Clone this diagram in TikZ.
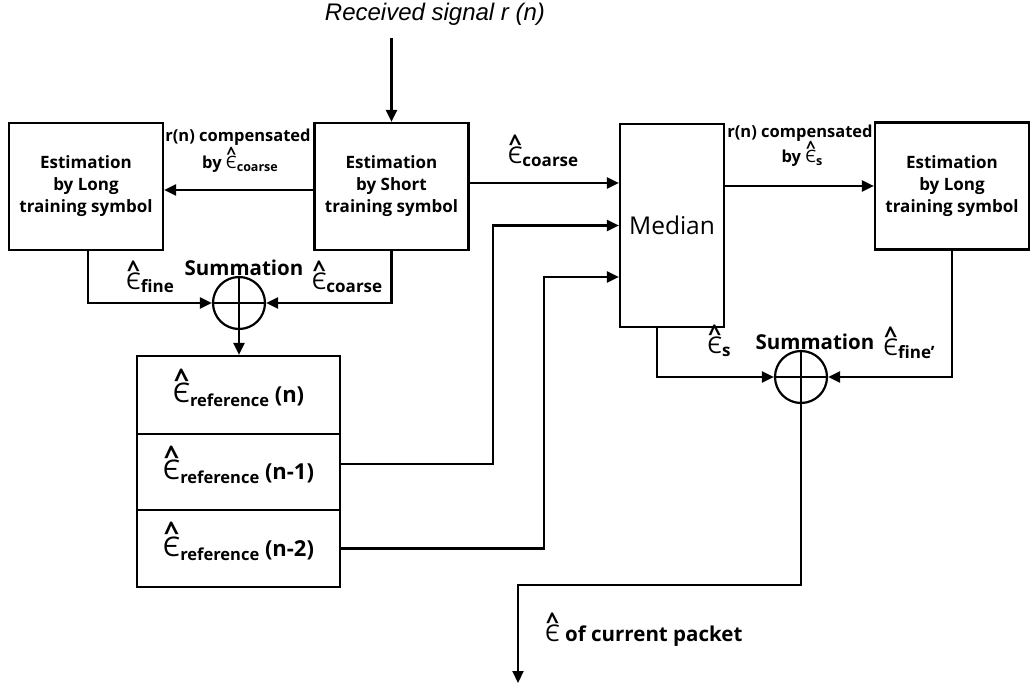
\documentclass[tikz,border=0pt]{standalone}
\usepackage{fontspec}
\usepackage{graphicx}
\setmainfont{Open Sans}
\newfontfamily\arialfont{Liberation Sans}
\usetikzlibrary{arrows.meta}
\newcommand\ehat[1]{\mbox{\fontsize{#1}{#1}\selectfont\mdseries\ooalign{Є\cr\hidewidth\raisebox{0.52em}{\bfseries\textasciicircum}\hidewidth\cr}}}
\newcommand\eh[3]{\mbox{\ehat{#1}\raisebox{-0.2em}{\fontsize{#2}{#2}\selectfont\bfseries #3}}}
\begin{document}
\begin{tikzpicture}[x=1pt,y=-1pt,
  blk/.style={draw, line width=2.2pt, minimum width=154pt, minimum height=127pt, inner sep=0pt, align=center, font=\fontsize{17}{22}\selectfont\bfseries},
  arr/.style={line width=2.2pt, -{Triangle[length=12pt,width=11pt]}},
  ln/.style={line width=2.2pt},
  sumc/.style={draw, circle, line width=2.2pt, minimum size=52pt, inner sep=0pt},
  lbl/.style={inner sep=0pt, font=\fontsize{16.5}{17}\selectfont\bfseries},
  big/.style={inner sep=0pt, font=\fontsize{20.5}{20}\selectfont\bfseries},
  cell/.style={draw, line width=2.2pt, minimum width=203pt, inner sep=0pt, font=\fontsize{22}{22}\selectfont\bfseries}]
\path[use as bounding box] (0,0) rectangle (1031,684);

% blocks
\node[blk] (longL) at (86,186.5) {Estimation\\by Long\\training symbol};
\node[blk] (shortB) at (391.5,186.5) {Estimation\\by Short\\training symbol};
\node[blk] (longR) at (952,186) {Estimation\\by Long\\training symbol};
\node[draw, line width=2.2pt, minimum width=104pt, minimum height=203pt, inner sep=0pt, font=\fontsize{24.5}{24}\selectfont] (median) at (672,225.5) {Median};

% summation circles
\node[sumc] (sumL) at (239,303) {};
\node[sumc] (sumR) at (801,377) {};
\draw[ln] (sumL.north) -- (sumL.south) (sumL.west) -- (sumL.east);
\draw[ln] (sumR.north) -- (sumR.south) (sumR.west) -- (sumR.east);

% reference stack
\node[cell, minimum height=78pt] (ref0) at (238.5,395) {\eh{27}{16.5}{reference}\ (n)};
\node[cell, minimum height=76pt] (ref1) at (238.5,472) {\eh{27}{16.5}{reference}\ (n-1)};
\node[cell, minimum height=77pt] (ref2) at (238.5,548.5) {\eh{27}{16.5}{reference}\ (n-2)};

% texts
\node[inner sep=0pt, font=\arialfont\itshape\fontsize{24}{24}\selectfont] (rx) at (435,14) {Received signal r (n)};
\node[lbl] (c1a) at (238,137) {r(n) compensated};
\node[lbl] (c1b) at (240,164) {by \eh{17}{12.5}{coarse}};
\node[big] (s1) at (244,268) {Summation};
\node[lbl] (ef) at (150,283) {\eh{23}{17}{fine}};
\node[lbl] (ec1) at (347,283) {\eh{23}{17}{coarse}};
\node[lbl] (ec2) at (543,157) {\eh{23}{17}{coarse}};
\node[lbl] (c2a) at (800,133) {r(n) compensated};
\node[lbl] (c2b) at (802,158) {by \eh{17}{12.5}{s}};
\node[big] (s2) at (815,342) {Summation};
\node[lbl] (es) at (719,347) {\eh{23}{17}{s}};
\node[lbl] (efp) at (909,349) {\eh{23}{17}{fine’}};
\node[lbl, anchor=west, font=\fontsize{20.5}{20}\selectfont\bfseries] (cur) at (545,636) {\ehat{23}\ of current packet};

% coordinates
\coordinate (rxs) at (391.5,38);
\coordinate (outEnd) at (518,683);

% connectors
\draw[arr] (rxs) -- (shortB.north);
\draw[arr] ([yshift=-3.5pt]shortB.west) -- ([yshift=-3.5pt]longL.east);
\draw[arr] ([yshift=3.5pt]shortB.east) -- ([yshift=42.5pt]median.west);
\draw[arr] ([yshift=39.5pt]median.east) -- (longR.west);
\draw[arr] ([xshift=2pt]longL.south) |- (sumL.west);
\draw[arr] (shortB.south) |- (sumL.east);
\draw[arr] (sumL.south) -- (ref0.north -| sumL.south);
\draw[arr] ([yshift=8pt]ref1.east) -| ([xshift=-126pt]median.west) -- (median.west);
\draw[arr] (ref2.east) -| ([xshift=-75pt,yshift=-51.5pt]median.west) -- ([yshift=-51.5pt]median.west);
\draw[arr] ([xshift=-15pt]median.south) |- (sumR.west);
\draw[arr] (longR.south) |- (sumR.east);
\draw[arr] (sumR.south) -- ++(0,181) -| (outEnd);
\end{tikzpicture}
\end{document}
